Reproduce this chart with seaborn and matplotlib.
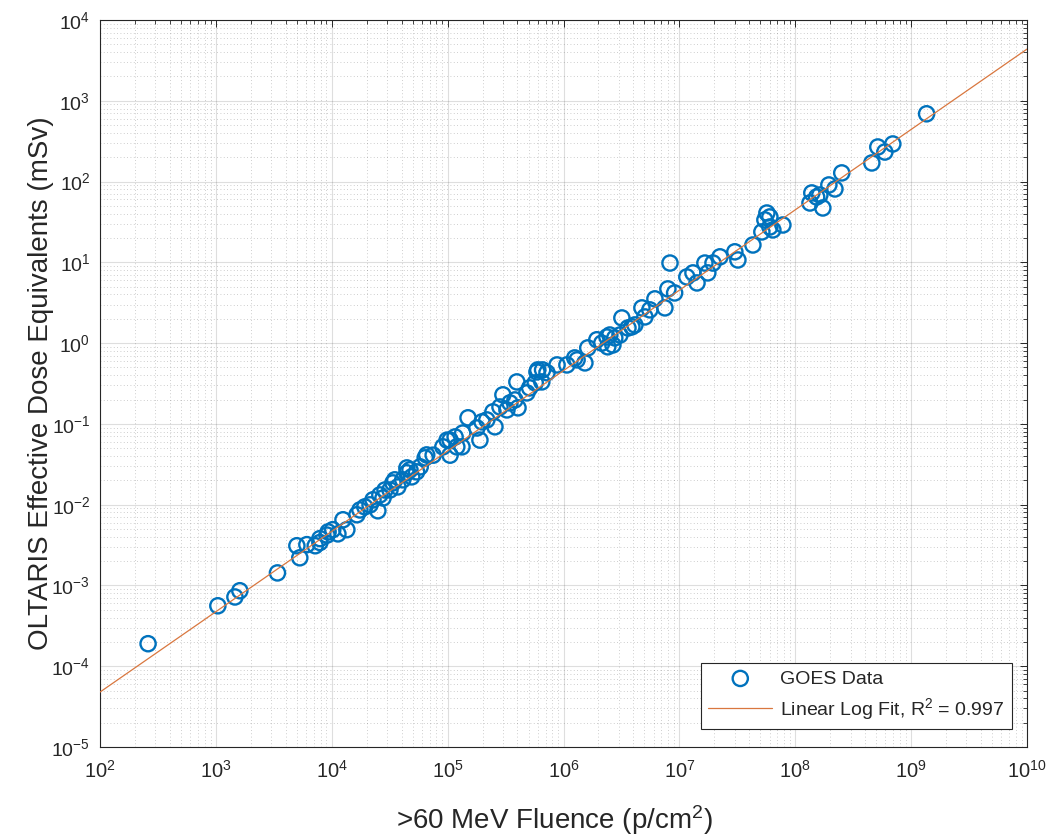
import numpy as np
import pandas as pd
import matplotlib
matplotlib.use("Agg")
import matplotlib.pyplot as plt
import seaborn as sns
from matplotlib.ticker import FixedLocator, NullFormatter, LogFormatterSciNotation

# ---- data ----
fluence = [
    2.6e2, 1.04e3, 1.46e3, 1.61e3, 3.4e3, 5.0e3, 5.3e3, 6.1e3, 7.2e3, 7.9e3,
    7.9e3, 9.1e3, 9.3e3, 1.02e4, 1.13e4, 1.35e4, 1.25e4, 1.65e4, 1.75e4, 1.93e4,
    2.14e4, 2.5e4, 2.27e4, 2.6e4, 2.77e4, 2.88e4, 3.18e4, 3.37e4, 3.72e4, 4.1e4,
    4.45e4, 4.9e4, 4.73e4, 5.4e4, 5.8e4, 6.4e4, 4.45e4, 7.5e4, 9.1e4, 1.05e5,
    1.16e5, 1.05e5, 1.5e5, 1.35e5, 1.79e5, 1.98e5, 2.18e5, 2.46e5, 2.83e5, 3.0e5,
    3.25e5, 3.45e5, 3.81e5, 4.05e5, 3.96e5, 4.83e5, 5.1e5, 5.7e5, 5.9e5, 6.5e5,
    7.2e5, 2.56e5, 1.9e5, 1.33e5, 9.9e4, 1.2e5, 6.6e4, 3.5e4, 6.0e5, 8.8e5,
    1.07e6, 1.25e6, 1.53e6, 1.62e6, 1.94e6, 2.14e6, 2.37e6, 2.51e6, 2.41e6, 2.77e6,
    3.07e6, 3.19e6, 3.6e6, 3.89e6, 4.13e6, 4.75e6, 5.04e6, 5.56e6, 6.15e6, 7.5e6,
    7.96e6, 9.1e6, 8.3e6, 6.6e5, 1.31e6, 2.67e6, 1.42e7, 1.16e7, 1.31e7, 1.66e7,
    1.76e7, 1.95e7, 2.24e7, 3.01e7, 3.2e7, 4.31e7, 5.15e7, 5.47e7, 5.69e7, 6.04e7,
    6.04e7, 6.41e7, 7.82e7, 1.34e8, 1.39e8, 1.53e8, 1.73e8, 1.63e8, 1.95e8, 2.2e8,
    2.52e8, 4.58e8, 5.16e8, 5.93e8, 6.95e8, 1.36e9,
]
dose = [
    1.9e-4, 5.6e-4, 7.2e-4, 8.6e-4, 1.43e-3, 3.1e-3, 2.2e-3, 3.2e-3, 3.1e-3, 3.4e-3,
    3.8e-3, 4.2e-3, 4.6e-3, 4.9e-3, 4.35e-3, 4.9e-3, 6.5e-3, 7.5e-3, 8.6e-3, 9.4e-3,
    9.95e-3, 8.4e-3, 1.15e-2, 1.32e-2, 1.21e-2, 1.52e-2, 1.52e-2, 1.86e-2, 1.66e-2, 2.03e-2,
    2.48e-2, 2.21e-2, 2.7e-2, 2.55e-2, 2.94e-2, 3.8e-2, 2.85e-2, 4.1e-2, 5.2e-2, 6.3e-2,
    6.9e-2, 4.1e-2, 0.119, 7.7e-2, 8.9e-2, 0.106, 0.112, 0.141, 0.162, 0.229,
    0.149, 0.182, 0.198, 0.158, 0.331, 0.242, 0.279, 0.322, 0.44, 0.331,
    0.43, 9.2e-2, 6.3e-2, 5.2e-2, 6.3e-2, 5.2e-2, 4.13e-2, 2.03e-2, 0.466, 0.537,
    0.537, 0.656, 0.569, 0.873, 1.10, 1.0, 1.19, 1.26, 0.90, 1.16,
    1.26, 2.05, 1.54, 1.59, 1.68, 2.73, 2.11, 2.58, 3.53, 2.73,
    4.69, 4.18, 9.8, 0.466, 0.62, 0.95, 5.56, 6.6, 7.4, 9.8,
    7.4, 9.8, 11.7, 13.5, 10.7, 16.4, 23.8, 33.5, 40.8, 36.5,
    27.4, 25.2, 29.0, 54.3, 72.3, 64.4, 47.1, 68.2, 90.8, 81.0,
    128.0, 170.0, 268.0, 232.0, 292.0, 690.0,
]
fit_slope = 0.995       # log10(dose) = fit_slope*log10(fluence) + fit_intercept
fit_intercept = -6.31
fit_range = [1e2, 1e10]
r_squared = 0.997
x_decades = list(range(2, 11))    # 10^2 ... 10^10
y_decades = list(range(-5, 5))    # 10^-5 ... 10^4

df = pd.DataFrame({"fluence": fluence, "dose": dose})
fit_x = np.logspace(np.log10(fit_range[0]), np.log10(fit_range[1]), 50)
fit_df = pd.DataFrame({"fluence": fit_x,
                       "dose": 10 ** (fit_intercept + fit_slope * np.log10(fit_x))})

# ---- style ----
sns.set_theme(style="white")
plt.rcParams["font.family"] = ["Liberation Sans", "DejaVu Sans"]
plt.rcParams["mathtext.fontset"] = "custom"
plt.rcParams["mathtext.rm"] = "Liberation Sans"
plt.rcParams["mathtext.it"] = "Liberation Sans:italic"

fig = plt.figure(figsize=(10.53, 8.40), dpi=100)
W, H = 1053, 840
ax = fig.add_axes([100 / W, 1 - 747 / H, 927 / W, 727 / H])

blue = "#0072BD"
orange = "#D9773F"
dark = "#262626"

sns.scatterplot(data=df, x="fluence", y="dose", ax=ax, marker="o", s=120,
                facecolors="none", edgecolor=blue, linewidth=1.7,
                label="GOES Data", zorder=3)
sns.lineplot(data=fit_df, x="fluence", y="dose", ax=ax, color=orange,
             linewidth=0.9, label=f"Linear Log Fit, R$^2$ = {r_squared}",
             zorder=4)

ax.set_xscale("log")
ax.set_yscale("log")
ax.set_xlim(10.0 ** x_decades[0], 10.0 ** x_decades[-1])
ax.set_ylim(10.0 ** y_decades[0], 10.0 ** y_decades[-1])


def minor_positions(decades):
    return [m * 10.0 ** d for d in decades[:-1] for m in range(2, 10)]


ax.xaxis.set_major_locator(FixedLocator([10.0 ** d for d in x_decades]))
ax.yaxis.set_major_locator(FixedLocator([10.0 ** d for d in y_decades]))
ax.xaxis.set_minor_locator(FixedLocator(minor_positions(x_decades)))
ax.yaxis.set_minor_locator(FixedLocator(minor_positions(y_decades)))
for axis in (ax.xaxis, ax.yaxis):
    axis.set_minor_formatter(NullFormatter())
    axis.set_major_formatter(LogFormatterSciNotation())

ax.grid(True, which="major", color=dark, alpha=0.15, linewidth=0.8, linestyle="-")
ax.grid(True, which="minor", color=dark, alpha=0.3, linewidth=0.6, linestyle=(0, (1, 3)))
ax.set_axisbelow(True)

for sp in ax.spines.values():
    sp.set_visible(True)
    sp.set_color(dark)
    sp.set_linewidth(0.8)

ax.tick_params(which="both", direction="in", top=True, right=True, colors=dark)
ax.tick_params(which="major", length=5, width=0.7)
ax.tick_params(which="minor", length=3, width=0.6)
ax.tick_params(axis="x", which="major", labelsize=14.5, pad=9)
ax.tick_params(axis="y", which="major", labelsize=14, pad=7)

ax.set_xlabel(">60 MeV Fluence (p/cm$^2$)", fontsize=20, color=dark)
ax.set_ylabel("OLTARIS Effective Dose Equivalents (mSv)", fontsize=20, color=dark)
ax.xaxis.set_label_coords(0.49, -(803 - 747) / 727)
ax.yaxis.set_label_coords(-(100 - 54) / 927, 0.5)

leg = ax.legend(loc="lower right", fontsize=14, frameon=True, fancybox=False,
                edgecolor=dark, framealpha=1.0, handlelength=3.3, handletextpad=0.4,
                borderpad=0.38, labelspacing=0.42, borderaxespad=0,
                bbox_to_anchor=(1 - 15 / 927, 18 / 727))
leg.get_frame().set_linewidth(0.8)
for t in leg.get_texts():
    t.set_color(dark)

fig.savefig("out.png", dpi=100)
